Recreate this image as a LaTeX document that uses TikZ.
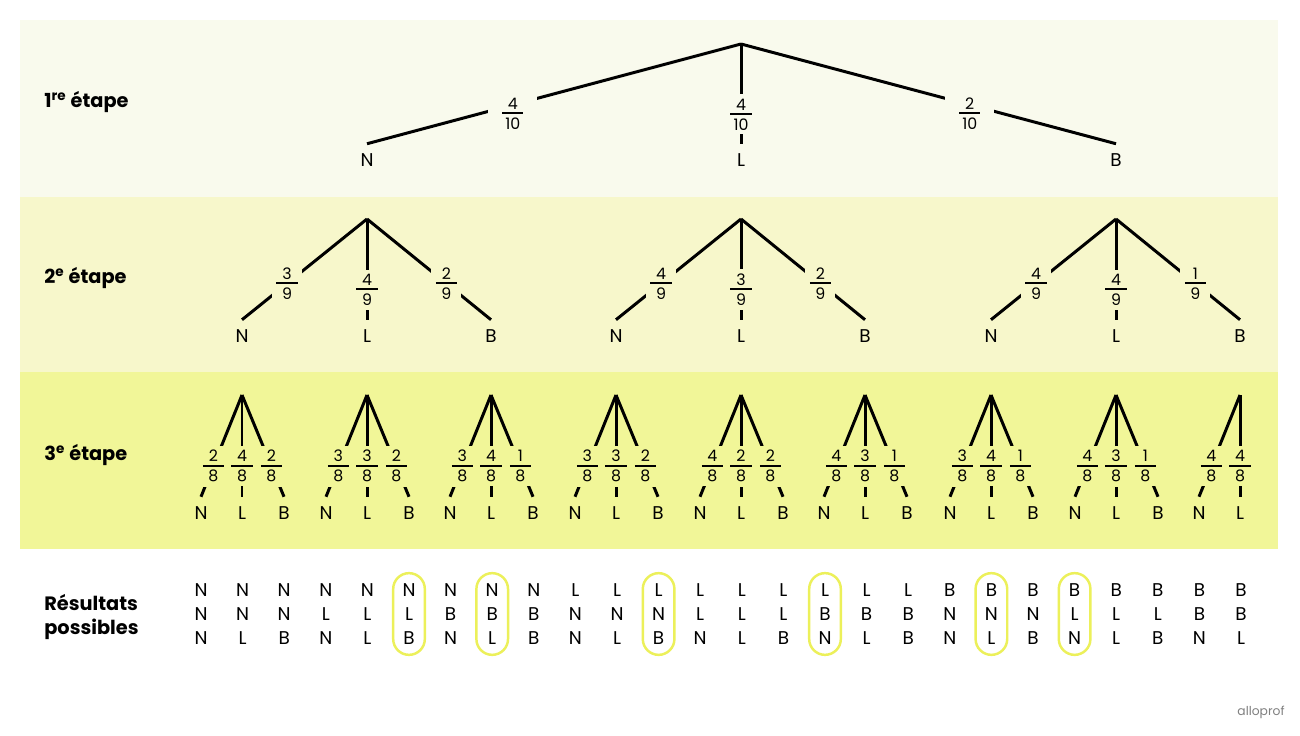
\documentclass[tikz,border=0pt]{standalone}
\usepackage{fontspec}
\setmainfont{Poppins}
\usetikzlibrary{positioning}
\definecolor{bandA}{RGB}{249,250,237}
\definecolor{bandB}{RGB}{247,247,203}
\definecolor{bandC}{RGB}{241,246,152}
\definecolor{ring}{RGB}{236,240,90}
% fraction with a thick bar
\newcommand{\fr}[2]{\vbox{\offinterlineskip\hbox to 12pt{\hss#1\hss}\kern1.6pt\hrule height 1.1pt\kern2pt\hbox to 12pt{\hss#2\hss}}}
\tikzset{
    %Define style for tree lines
    branch/.style={line width=1.7pt},
    %Define style for letters
    leaf/.style={
           font=\fontsize{10.5}{12}\selectfont,
           text height=7.3pt, text depth=0pt,
           inner xsep=0pt, inner ysep=5.4pt},
    prob/.style={
           font=\fontsize{9}{10}\selectfont,
           inner sep=2.5pt},
    stage/.style={
           font=\fontsize{11}{14}\selectfont\bfseries,
           anchor=west, align=left, inner xsep=0pt},
    outcome/.style={
           font=\fontsize{10.5}{13.6}\selectfont,
           align=center,
           minimum width=18pt, minimum height=46.5pt,
           inner sep=0pt},
    loose/.style={},
    ringed/.style={draw=ring, line width=1.4pt, rounded corners=9pt}
}
\begin{document}
\begin{tikzpicture}[x=0.02cm,y=-0.02cm]
\fill[white] (0,0) rectangle (1300,736);
\useasboundingbox (0,0) rectangle (1300,736);
\fill[bandA] (20,20) rectangle (1278,197);
\fill[bandB] (20,197) rectangle (1278,372);
\fill[bandC] (20,372) rectangle (1278,549);
\node[stage] (s1) at (44,102) {1\textsuperscript{re} étape};
\node[stage] (s2) at (44,278) {2\textsuperscript{e} étape};
\node[stage] (s3) at (44,455) {3\textsuperscript{e} étape};
\node[stage] (res) at (44,617) {Résultats\\possibles};
% first draw
\coordinate (top) at (741,44);
\node[leaf] (N) at (367,160) {N};
\node[leaf] (L) at (741,160) {L};
\node[leaf] (B) at (1116,160) {B};
\draw[branch] (top) -- node[prob, fill=bandA, pos=.61, inner xsep=8pt, yshift=-5pt] {\fr{4}{10}} (N.north);
\draw[branch] (top) -- node[prob, fill=bandA, pos=.68, yshift=-1.5pt] {\fr{4}{10}} (L.north);
\draw[branch] (top) -- node[prob, fill=bandA, pos=.61, inner xsep=8pt, yshift=-5pt] {\fr{2}{10}} (B.north);
% second draw
\foreach \p/\x/\a/\b/\c in {N/367/3/4/2, L/741/4/3/2, B/1116/4/4/1}{
  \coordinate (\p-top) at (\x,219);
  \node[leaf] (\p N) at (\x-125,336) {N};
  \node[leaf] (\p L) at (\x,336) {L};
  \node[leaf] (\p B) at (\x+124,336) {B};
  \draw[branch] (\p-top) -- node[prob, fill=bandB, pos=.64] {\fr{\a}{9}} (\p N.north);
  \draw[branch] (\p-top) -- node[prob, fill=bandB, pos=.7] {\fr{\b}{9}} (\p L.north);
  \draw[branch] (\p-top) -- node[prob, fill=bandB, pos=.64] {\fr{\c}{9}} (\p B.north);
}
% third draw
\foreach \p/\x/\a/\b/\c in {NN/242/2/4/2, NL/367/3/3/2, NB/491/3/4/1, LN/616/3/3/2,
    LL/741/4/2/2, LB/865/4/3/1, BN/991/3/4/1, BL/1116/4/3/1}{
  \coordinate (\p-top) at (\x,395);
  \node[leaf] (\p N) at (\x-41,513) {N};
  \node[leaf] (\p L) at (\x,513) {L};
  \node[leaf] (\p B) at (\x+42,513) {B};
  \draw[branch] (\p-top) -- node[prob, fill=bandC, pos=.7] {\fr{\a}{8}} (\p N.north);
  \draw[branch] (\p-top) -- node[prob, fill=bandC, pos=.7] {\fr{\b}{8}} (\p L.north);
  \draw[branch] (\p-top) -- node[prob, fill=bandC, pos=.7] {\fr{\c}{8}} (\p B.north);
}
\coordinate (BB-top) at (1240,395);
\node[leaf] (BBN) at (1199,513) {N};
\node[leaf] (BBL) at (1240,513) {L};
\draw[branch] (BB-top) -- node[prob, fill=bandC, pos=.7] {\fr{4}{8}} (BBN.north);
\draw[branch] (BB-top) -- node[prob, fill=bandC, pos=.7] {\fr{4}{8}} (BBL.north);
% outcomes
\foreach \t/\m/\b/\s [count=\i] in {N/N/N/loose, N/N/L/loose, N/N/B/loose, N/L/N/loose,
    N/L/L/loose, N/L/B/ringed, N/B/N/loose, N/B/L/ringed, N/B/B/loose, L/N/N/loose,
    L/N/L/loose, L/N/B/ringed, L/L/N/loose, L/L/L/loose, L/L/B/loose, L/B/N/ringed,
    L/B/L/loose, L/B/B/loose, B/N/N/loose, B/N/L/ringed, B/N/B/loose, B/L/N/ringed,
    B/L/L/loose, B/L/B/loose, B/B/N/loose, B/B/L/loose}
  \node[outcome, \s] (o\i) at ({201+(\i-1)*41.6},614) {\t\\\m\\\b};
\node[font=\fontsize{7}{8}\selectfont, text=gray] (logo) at (1261,712) {alloprof};
\end{tikzpicture}
\end{document}
